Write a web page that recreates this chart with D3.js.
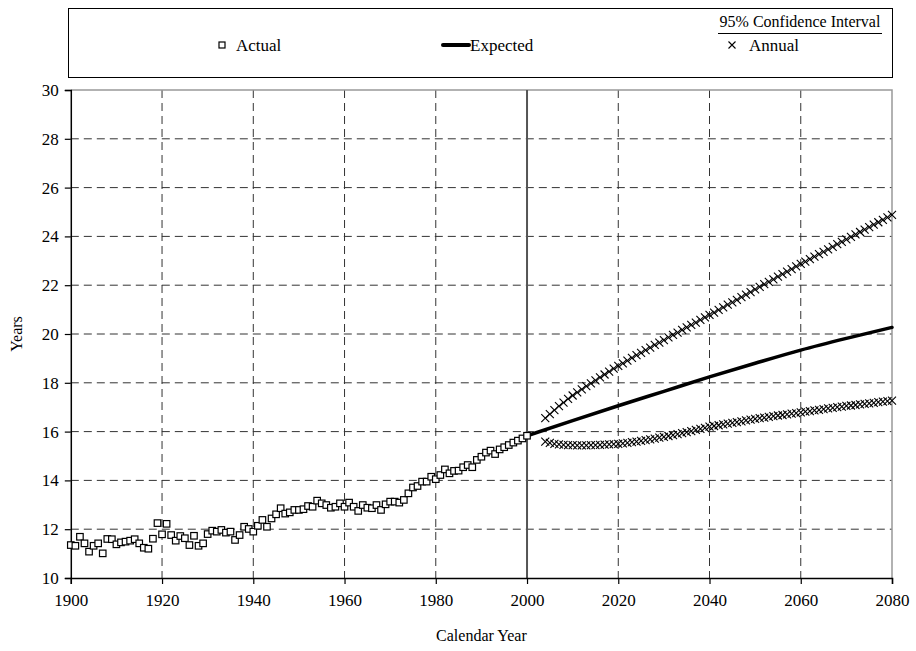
<!DOCTYPE html>
<html>
<head>
<meta charset="utf-8">
<script src="https://cdnjs.cloudflare.com/ajax/libs/d3/7.8.5/d3.min.js"></script>
<style>
  body { margin: 0; background: #fff; }
  svg text { font-family: 'Liberation Serif', 'Times New Roman', serif; fill: #000; }
</style>
</head>
<body>
<svg width="916" height="651"></svg>
<script>
// actual values, one per year from 1900 to 2000
const actualYears = d3.range(1900, 2001);
const actualValues = [
  11.35, 11.32, 11.69, 11.42, 11.08, 11.32, 11.42, 11.01, 11.60, 11.59,
  11.38, 11.46, 11.49, 11.53, 11.59, 11.42, 11.24, 11.20, 11.61, 12.25,
  11.79, 12.22, 11.76, 11.53, 11.72, 11.63, 11.35, 11.73, 11.32, 11.42,
  11.80, 11.94, 11.90, 11.97, 11.86, 11.90, 11.56, 11.76, 12.10, 12.01,
  11.90, 12.14, 12.38, 12.10, 12.44, 12.61, 12.86, 12.64, 12.69, 12.79,
  12.79, 12.82, 12.95, 12.92, 13.17, 13.06, 12.99, 12.88, 12.92, 13.06,
  12.92, 13.09, 12.92, 12.75, 12.99, 12.88, 12.86, 12.99, 12.79, 13.02,
  13.13, 13.13, 13.09, 13.20, 13.47, 13.71, 13.77, 13.95, 13.95, 14.15,
  14.05, 14.22, 14.45, 14.29, 14.39, 14.40, 14.54, 14.63, 14.54, 14.84,
  14.97, 15.14, 15.22, 15.08, 15.27, 15.36, 15.45, 15.55, 15.63, 15.72,
  15.83
];

// expected projection
const expectedYears = [2000, 2010, 2020, 2030, 2040, 2050, 2060, 2070, 2080];
const expectedValues = [15.83, 16.45, 17.06, 17.65, 18.24, 18.80, 19.34, 19.82, 20.27];

// 95% confidence interval, annual, 2004 to 2080
const ciYears = d3.range(2004, 2081);
const upperValues = [
  16.55, 16.72, 16.88, 17.04, 17.19, 17.34, 17.48, 17.61, 17.73, 17.86,
  17.98, 18.10, 18.22, 18.34, 18.46, 18.58, 18.69, 18.80, 18.91, 19.02,
  19.13, 19.23, 19.34, 19.44, 19.55, 19.65, 19.75, 19.86, 19.96, 20.06,
  20.17, 20.27, 20.37, 20.47, 20.58, 20.68, 20.78, 20.88, 20.99, 21.09,
  21.20, 21.30, 21.40, 21.51, 21.61, 21.72, 21.83, 21.93, 22.04, 22.14,
  22.24, 22.35, 22.45, 22.56, 22.66, 22.77, 22.87, 22.97, 23.07, 23.17,
  23.27, 23.37, 23.47, 23.57, 23.68, 23.78, 23.88, 23.98, 24.08, 24.18,
  24.28, 24.38, 24.48, 24.58, 24.68, 24.78, 24.88
];
const lowerValues = [
  15.59, 15.54, 15.50, 15.48, 15.46, 15.45, 15.45, 15.44, 15.44, 15.44,
  15.45, 15.45, 15.46, 15.47, 15.48, 15.49, 15.50, 15.52, 15.54, 15.57,
  15.59, 15.62, 15.65, 15.68, 15.71, 15.75, 15.78, 15.82, 15.86, 15.90,
  15.94, 15.98, 16.02, 16.07, 16.11, 16.15, 16.20, 16.23, 16.26, 16.30,
  16.33, 16.36, 16.39, 16.42, 16.46, 16.49, 16.52, 16.55, 16.57, 16.60,
  16.63, 16.66, 16.68, 16.71, 16.74, 16.76, 16.79, 16.82, 16.84, 16.87,
  16.89, 16.92, 16.95, 16.97, 17.00, 17.02, 17.05, 17.07, 17.09, 17.12,
  17.14, 17.16, 17.18, 17.21, 17.23, 17.25, 17.27
];

const xTicks = d3.range(1900, 2081, 20);
const yTicks = d3.range(10, 31, 2);

const svg = d3.select('svg');
const margin = { top: 90, left: 70.8, right: 24, bottom: 73 };
const width = 916 - margin.left - margin.right;
const height = 651 - margin.top - margin.bottom;

const x = d3.scaleLinear().domain([1900, 2080]).range([0, width]);
const y = d3.scaleLinear().domain([10, 30]).range([height, 0]);

const g = svg.append('g').attr('transform', `translate(${margin.left},${margin.top})`);

// dashed grid
g.append('g')
  .selectAll('line')
  .data(yTicks.filter((d) => d > 10 && d < 30))
  .join('line')
  .attr('x1', 0)
  .attr('x2', width)
  .attr('y1', (d) => y(d))
  .attr('y2', (d) => y(d))
  .attr('stroke', '#333')
  .attr('stroke-dasharray', '8,5');

g.append('g')
  .selectAll('line')
  .data(xTicks.filter((d) => d > 1900 && d < 2080 && d !== 2000))
  .join('line')
  .attr('x1', (d) => x(d))
  .attr('x2', (d) => x(d))
  .attr('y1', 0)
  .attr('y2', height)
  .attr('stroke', '#333')
  .attr('stroke-dasharray', '8,5');

// top + right frame, and the 2000 divider
g.append('path')
  .attr('d', `M0,0H${width}V${height}`)
  .attr('fill', 'none')
  .attr('stroke', '#999')
  .attr('stroke-width', 1.5);

g.append('line')
  .attr('x1', x(2000))
  .attr('x2', x(2000))
  .attr('y1', 0)
  .attr('y2', height)
  .attr('stroke', '#555')
  .attr('stroke-width', 2);

// axes
const xAxis = g.append('g')
  .attr('transform', `translate(0,${height})`)
  .call(d3.axisBottom(x).tickValues(xTicks).tickFormat(d3.format('d')).tickSize(6).tickPadding(10));
const yAxis = g.append('g')
  .call(d3.axisLeft(y).tickValues(yTicks).tickSize(6).tickPadding(6));

[xAxis, yAxis].forEach((a) => {
  a.select('.domain').attr('stroke', '#000').attr('stroke-width', 1.5);
  a.selectAll('.tick line').attr('stroke', '#000').attr('stroke-width', 1.2);
  a.selectAll('text').style('font-size', '17px').attr('font-family', null);
});

// expected line
g.append('path')
  .datum(expectedYears.map((d, i) => [d, expectedValues[i]]))
  .attr('fill', 'none')
  .attr('stroke', '#000')
  .attr('stroke-width', 3.5)
  .attr('stroke-linecap', 'round')
  .attr('d', d3.line().curve(d3.curveMonotoneX).x((d) => x(d[0])).y((d) => y(d[1])));

// confidence interval crosses
const cross = 'M-4,-4L4,4M-4,4L4,-4';
[upperValues, lowerValues].forEach((vals) => {
  g.append('g')
    .selectAll('path')
    .data(ciYears.map((d, i) => [d, vals[i]]))
    .join('path')
    .attr('d', cross)
    .attr('transform', (d) => `translate(${x(d[0])},${y(d[1])})`)
    .attr('stroke', '#000')
    .attr('stroke-width', 1.1)
    .attr('fill', 'none');
});

// actual squares
g.append('g')
  .selectAll('rect')
  .data(actualYears.map((d, i) => [d, actualValues[i]]))
  .join('rect')
  .attr('x', (d) => x(d[0]) - 3.25)
  .attr('y', (d) => y(d[1]) - 3.25)
  .attr('width', 6.5)
  .attr('height', 6.5)
  .attr('fill', '#fff')
  .attr('stroke', '#000')
  .attr('stroke-width', 1.2);

// axis titles
svg.append('text')
  .attr('transform', `translate(18,${margin.top + height / 2}) rotate(-90)`)
  .attr('text-anchor', 'middle')
  .attr('dominant-baseline', 'middle')
  .style('font-size', '16px')
  .text('Years');

svg.append('text')
  .attr('x', margin.left + width / 2)
  .attr('y', 641)
  .attr('text-anchor', 'middle')
  .style('font-size', '16px')
  .text('Calendar Year');

// legend
const leg = svg.append('g');
leg.append('rect')
  .attr('x', 68.5)
  .attr('y', 8.5)
  .attr('width', 824)
  .attr('height', 69)
  .attr('fill', '#fff')
  .attr('stroke', '#000');

const ly = 45;
leg.append('rect')
  .attr('x', 219)
  .attr('y', ly - 3)
  .attr('width', 6)
  .attr('height', 6)
  .attr('fill', '#fff')
  .attr('stroke', '#000')
  .attr('stroke-width', 1.2);
leg.append('text').attr('x', 236).attr('y', ly + 6).style('font-size', '17px').text('Actual');

leg.append('line')
  .attr('x1', 443)
  .attr('x2', 469)
  .attr('y1', ly)
  .attr('y2', ly)
  .attr('stroke', '#000')
  .attr('stroke-width', 4)
  .attr('stroke-linecap', 'round');
leg.append('text').attr('x', 470).attr('y', ly + 6).style('font-size', '17px').text('Expected');

leg.append('text')
  .attr('x', 800)
  .attr('y', 27)
  .attr('text-anchor', 'middle')
  .style('font-size', '16px')
  .text('95% Confidence Interval');
leg.append('line')
  .attr('x1', 718)
  .attr('x2', 882)
  .attr('y1', 33.5)
  .attr('y2', 33.5)
  .attr('stroke', '#000');
leg.append('path')
  .attr('d', 'M-3.5,-3.5L3.5,3.5M-3.5,3.5L3.5,-3.5')
  .attr('transform', `translate(732,${ly})`)
  .attr('stroke', '#000')
  .attr('stroke-width', 1.1);
leg.append('text').attr('x', 749).attr('y', ly + 6).style('font-size', '17px').text('Annual');
</script>
</body>
</html>
